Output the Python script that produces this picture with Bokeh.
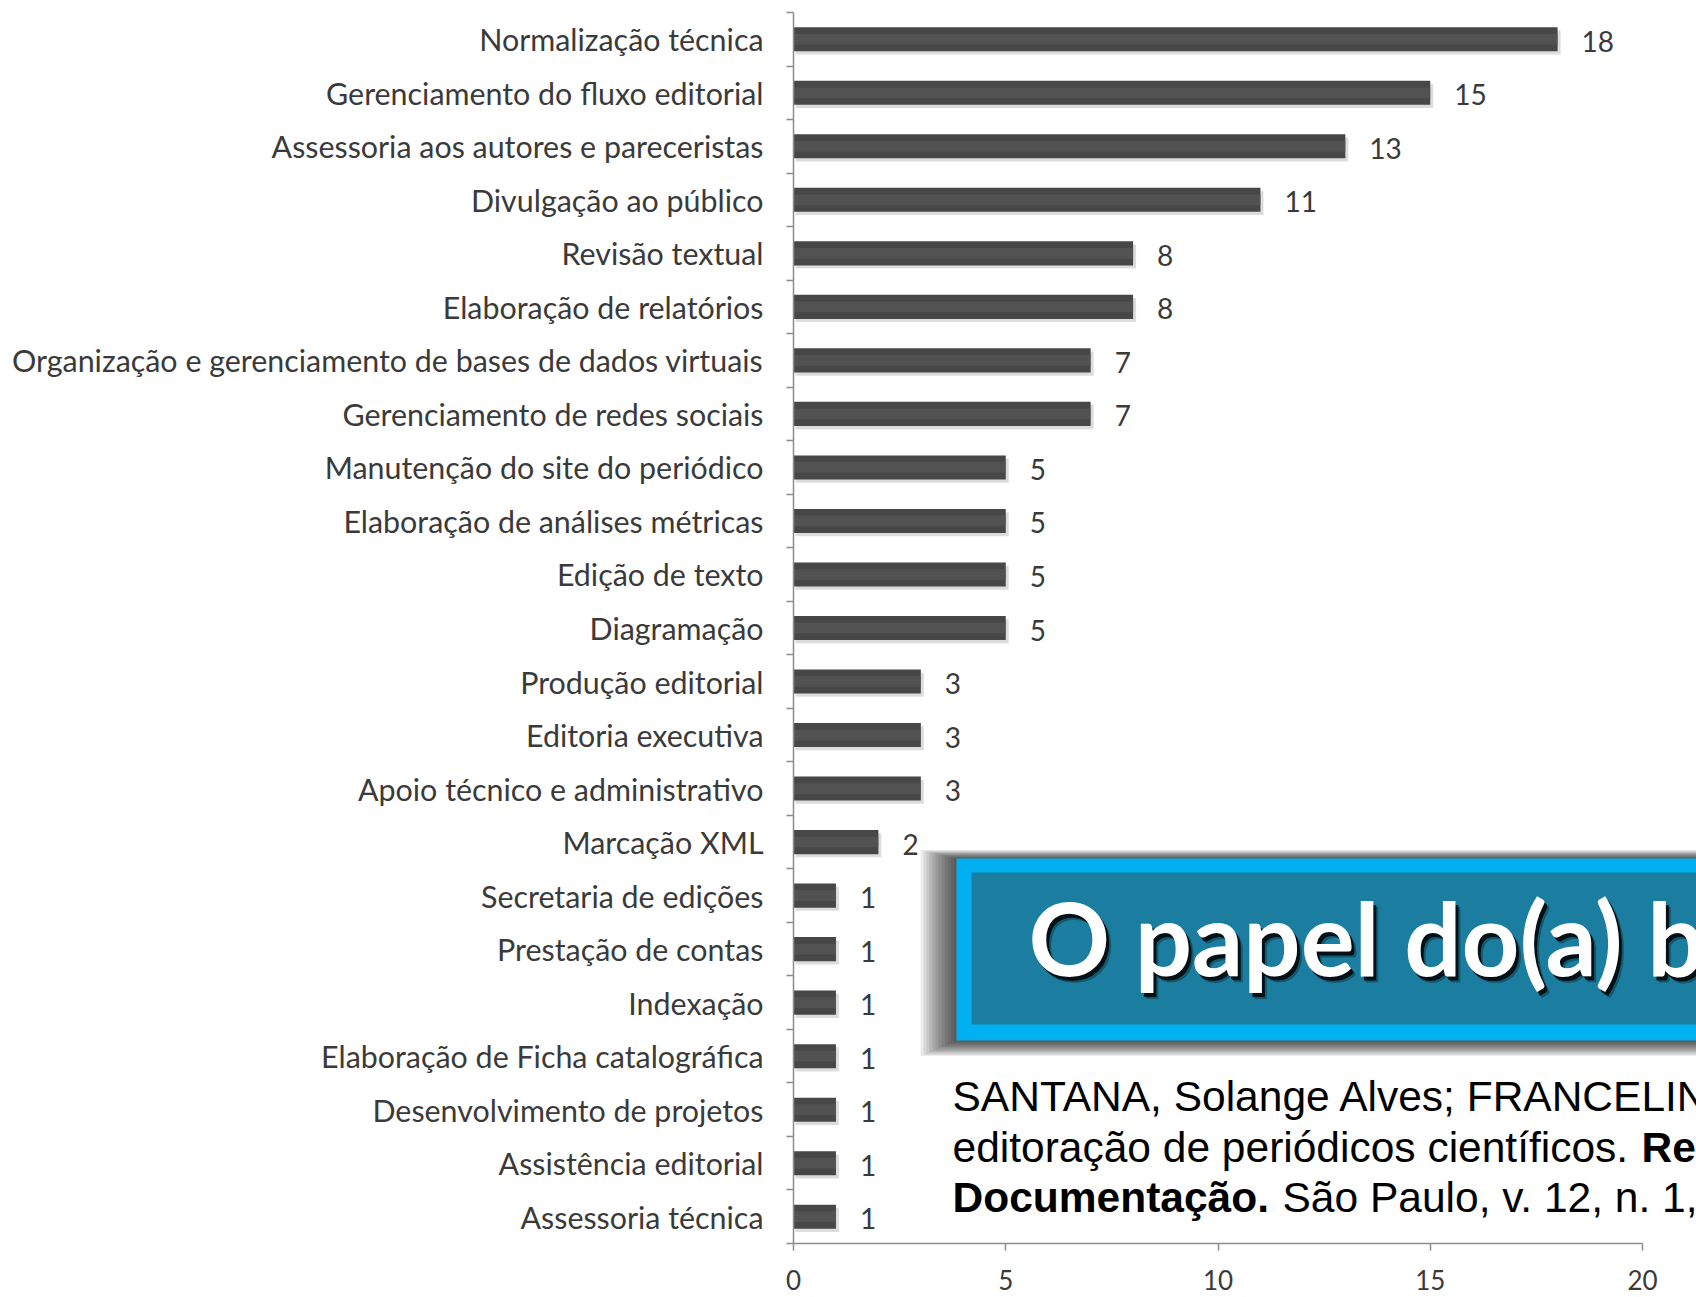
import numpy as np
from bokeh.plotting import figure
from bokeh.models import Range1d, FixedTicker, ColumnDataSource, BoxAnnotation, Label
from bokeh.core.properties import value
from bokeh.transform import dodge
from bokeh.embed import file_html
from bokeh.resources import INLINE

# ---------------- data ----------------
categories = [
    "Normalização técnica",
    "Gerenciamento do fluxo editorial",
    "Assessoria aos autores e pareceristas",
    "Divulgação ao público",
    "Revisão textual",
    "Elaboração de relatórios",
    "Organização e gerenciamento de bases de dados virtuais",
    "Gerenciamento de redes sociais",
    "Manutenção do site do periódico",
    "Elaboração de análises métricas",
    "Edição de texto",
    "Diagramação",
    "Produção editorial",
    "Editoria executiva",
    "Apoio técnico e administrativo",
    "Marcação XML",
    "Secretaria de edições",
    "Prestação de contas",
    "Indexação",
    "Elaboração de Ficha catalográfica",
    "Desenvolvimento de projetos",
    "Assistência editorial",
    "Assessoria técnica",
]
counts = [18, 15, 13, 11, 8, 8, 7, 7, 5, 5, 5, 5, 3, 3, 3, 2, 1, 1, 1, 1, 1, 1, 1]
x_ticks = [0, 5, 10, 15, 20]

title_text = "O papel do(a) bibliotecário(a)"
cite_line1 = "SANTANA, Solange Alves; FRANCELIN"
cite_line2 = "editoração de periódicos científicos."
cite_line2_bold = "Revista"
cite_line3_bold = "Documentação."
cite_line3 = "São Paulo, v. 12, n. 1,"

# ---------------- layout ----------------
W, H = 1696, 1297
LEFT, TOP, BOTTOM = 793, 12, 54
n = len(categories)
pos = [int(i) for i in range(n)]

unit_x = (1642 - 793) / 20.0
unit_y = (1243 - 12) / float(n)
x_end = (W - LEFT) / unit_x


def dx(px):
    return (px - 793) / unit_x


def dy(py):
    return (py - 12) / unit_y - 0.5


p = figure(
    width=W, height=H,
    x_range=Range1d(0, x_end), y_range=Range1d(n - 0.5, -0.5),
    output_backend="svg", toolbar_location=None,
    min_border_left=LEFT, min_border_right=0,
    min_border_top=TOP, min_border_bottom=BOTTOM,
)
p.outline_line_color = None
p.grid.visible = False
p.background_fill_color = "white"
p.border_fill_color = "white"

src = ColumnDataSource(dict(y=pos, v=counts, label=[str(c) for c in counts]))

# bar shadows
p.hbar(y=dodge("y", 0.06), left=0.05, right=dodge("v", 0.07), height=0.45,
       source=src, fill_color="#9a9a9a", fill_alpha=0.35, line_color=None)
# bars
p.hbar(y="y", left=0, right="v", height=0.45, source=src,
       fill_color="#474747", line_color=None)
# subtle lighter band (glossy look)
p.hbar(y="y", left=0, right="v", height=0.2, source=src,
       fill_color="#5a5a5a", fill_alpha=0.6, line_color=None)
# value labels
p.text(x="v", y="y", text="label", source=src, x_offset=24, y_offset=2,
       text_align="left", text_baseline="middle",
       text_font=value("Lato"), text_font_size="28px", text_color="#3a3a3a")

# axes
ax_col = "#8c8c8c"
yax = p.yaxis[0]
yax.ticker = FixedTicker(ticks=pos, minor_ticks=[i - 0.5 for i in range(n + 1)])
yax.major_label_overrides = {int(i): c for i, c in zip(pos, categories)}
yax.major_tick_out = 0
yax.major_tick_in = 0
yax.minor_tick_out = 7
yax.minor_tick_in = 0
yax.major_label_standoff = 23
yax.major_label_text_font = "Lato"
yax.major_label_text_font_size = "30.4px"
yax.major_label_text_color = "#3a3a3a"
yax.axis_line_color = ax_col
yax.axis_line_width = 1.5
yax.minor_tick_line_color = ax_col
yax.minor_tick_line_width = 1.5

xax = p.xaxis[0]
xax.ticker = FixedTicker(ticks=x_ticks)
xax.bounds = (0, 20)
xax.major_tick_out = 7
xax.major_tick_in = 0
xax.minor_tick_line_color = None
xax.major_label_standoff = 19
xax.major_label_text_font = "Lato"
xax.major_label_text_font_size = "26px"
xax.major_label_text_color = "#3a3a3a"
xax.axis_line_color = ax_col
xax.axis_line_width = 1.5
xax.major_tick_line_color = ax_col
xax.major_tick_line_width = 1.5

# ---------------- title box overlay ----------------
for k in range(1, 13):
    p.add_layout(BoxAnnotation(left=dx(956 - 3 * k), right=None,
                               top=dy(858 - 0.7 * k), bottom=dy(1040 + 1.3 * k),
                               fill_color="black", fill_alpha=0.08,
                               line_color=None, line_alpha=0))
p.add_layout(BoxAnnotation(left=dx(956), right=None, top=dy(858), bottom=dy(1040),
                           fill_color="#00b0f0", fill_alpha=1.0, line_color=None, line_alpha=0))
p.add_layout(BoxAnnotation(left=dx(971), right=None, top=dy(872), bottom=dy(1024),
                           fill_color="#1b7ea0", fill_alpha=1.0, line_color=None, line_alpha=0))

TSIZE = 101
t_base = 979 - 0.42 * TSIZE
for (ox, oy, a) in [(5, 6, 0.3), (3, 4, 0.8)]:
    p.add_layout(Label(x=dx(1028 + ox), y=dy(t_base + oy), text=title_text,
                       text_font="Lato", text_font_style="bold", text_font_size=f"{TSIZE}px",
                       text_color="black", text_alpha=a, text_baseline="alphabetic"))
p.add_layout(Label(x=dx(1028), y=dy(t_base), text=title_text,
                   text_font="Lato", text_font_style="bold", text_font_size=f"{TSIZE}px",
                   text_color="white", text_baseline="alphabetic"))

# ---------------- citation ----------------
cite_font = "Liberation Sans"
CSIZE = 42.5
cite_size = f"{CSIZE}px"
corr = 0.42 * CSIZE
b1, b2, b3 = 1114 - corr, 1164.5 - corr, 1215 - corr
p.add_layout(Label(x=dx(952), y=dy(b1), text=cite_line1, text_font=cite_font,
                   text_font_size=cite_size, text_color="black", text_baseline="alphabetic"))
p.add_layout(Label(x=dx(952), y=dy(b2), text=cite_line2, text_font=cite_font,
                   text_font_size=cite_size, text_color="black", text_baseline="alphabetic"))
p.add_layout(Label(x=dx(1641), y=dy(b2), text=cite_line2_bold, text_font=cite_font,
                   text_font_style="bold",
                   text_font_size=cite_size, text_color="black", text_baseline="alphabetic"))
p.add_layout(Label(x=dx(952), y=dy(b3), text=cite_line3_bold, text_font=cite_font,
                   text_font_style="bold",
                   text_font_size=cite_size, text_color="black", text_baseline="alphabetic"))
p.add_layout(Label(x=dx(1282), y=dy(b3), text=cite_line3, text_font=cite_font,
                   text_font_size=cite_size, text_color="black", text_baseline="alphabetic"))

open("out.html", "w").write(file_html(p, INLINE))
